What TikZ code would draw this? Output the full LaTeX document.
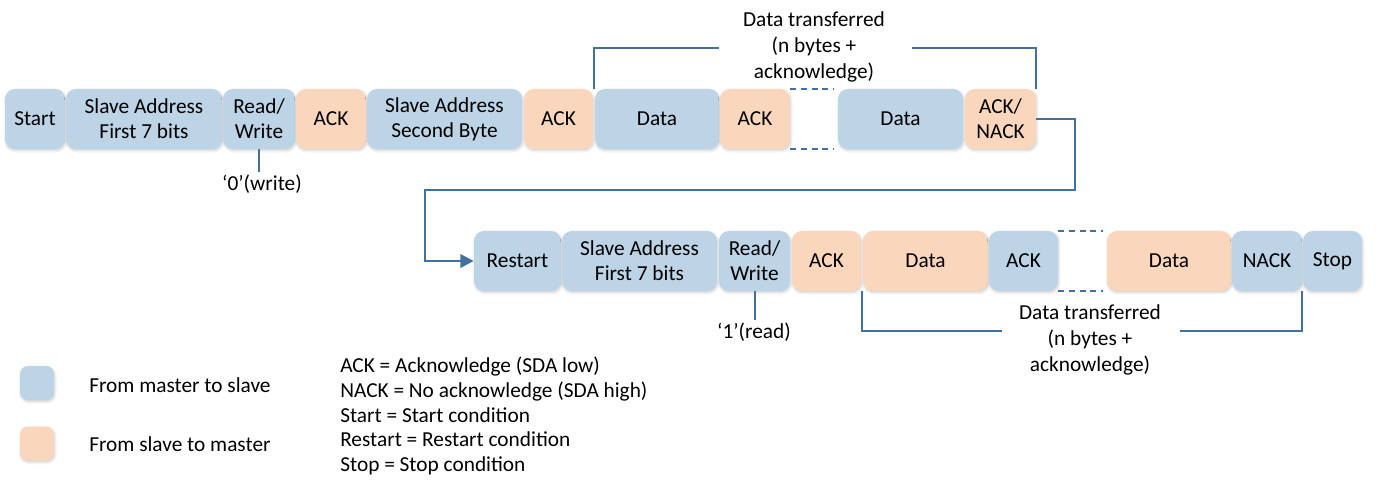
\documentclass[tikz,border=0pt]{standalone}
\usepackage{fontspec}
\setmainfont{Carlito}
\usetikzlibrary{arrows.meta,shadows.blur}
\definecolor{mblue}{HTML}{BDD3E6}
\definecolor{sorange}{HTML}{FAD6BC}
\definecolor{lineblue}{HTML}{41719C}
\begin{document}
\begin{tikzpicture}[x=0.75pt,y=-0.75pt,
  font=\fontsize{16}{19}\selectfont,
  box/.style={rounded corners=7.5pt, minimum height=45pt, inner sep=0pt, align=center,
    blur shadow={shadow xshift=0.6pt, shadow yshift=-1.2pt, shadow blur radius=2pt, shadow opacity=20}},
  mbox/.style={box, fill=mblue},
  sbox/.style={box, fill=sorange},
  seg/.style={draw=lineblue, line width=1.5pt},
  dashseg/.style={draw=lineblue, line width=1.5pt, dash pattern=on 4.5pt off 3.5pt},
  flow/.style={draw=lineblue, line width=1.8pt, -{Triangle[length=10pt,width=10pt]}},
  lbl/.style={inner sep=1.5pt, align=center},
  note/.style={inner sep=0pt, align=center, font=\fontsize{16}{19.5}\selectfont}
]
\useasboundingbox (0,0) rectangle (1376,502);

% top row
\node[mbox, minimum width=45pt]    (start) at (35,119)    {Start};
\node[mbox, minimum width=117pt]   (sa1)   at (144,119)   {Slave Address\\First 7 bits};
\node[mbox, minimum width=54pt]    (rw1)   at (259,119)   {Read/\\Write};
\node[sbox, minimum width=52.5pt]  (ack1)  at (331,119)   {ACK};
\node[mbox, minimum width=116.25pt](sa2)   at (444.5,119) {Slave Address\\Second Byte};
\node[sbox, minimum width=51.75pt] (ack2)  at (558.5,119) {ACK};
\node[mbox, minimum width=93pt]    (d1)    at (657,119)   {Data};
\node[sbox, minimum width=52.5pt]  (ack3)  at (755,119)   {ACK};
\node[mbox, minimum width=93.75pt] (d2)    at (900.5,119) {Data};
\node[sbox, minimum width=53.25pt] (an)    at (1000.5,119){ACK/\\NACK};

\draw[dashseg] (ack3.north east) -- ([xshift=-3.5pt]d2.north west);
\draw[dashseg] (ack3.south east) -- ([xshift=-3.5pt]d2.south west);

% bottom row
\node[mbox, minimum width=65.25pt] (rs)    at (517.5,261) {Restart};
\node[mbox, minimum width=116.25pt](sb1)   at (639.5,261) {Slave Address\\First 7 bits};
\node[mbox, minimum width=53.25pt] (rw2)   at (754.5,261) {Read/\\Write};
\node[sbox, minimum width=51.75pt] (ackb1) at (826.5,261) {ACK};
\node[sbox, minimum width=93.75pt] (db1)   at (925.5,261) {Data};
\node[mbox, minimum width=51.75pt] (ackb2) at (1023.5,261){ACK};
\node[sbox, minimum width=93pt]    (db2)   at (1169,261)  {Data};
\node[mbox, minimum width=52.5pt]  (nack)  at (1267,261)  {NACK};
\node[mbox, minimum width=44.25pt] (stop)  at (1332.5,261){Stop};

\draw[dashseg] (ackb2.north east) -- ([xshift=-3pt]db2.north west);
\draw[dashseg] (ackb2.south east) -- ([xshift=-3pt]db2.south west);

% flow from first row to restart
\coordinate (c1) at (1075,190);
\coordinate (c2) at (425,190);
\draw[flow] (an.east) -- (an.east -| c1) -- (c1) -- (c2) -- (c2 |- rs.west) -- (rs.west);

% read/write tick labels
\node[lbl] (w0) at (262,184) {‘0’(write)};
\draw[seg] (rw1.south) -- (rw1.south |- w0.north);
\node[lbl] (r1) at (754,332) {‘1’(read)};
\draw[seg] (rw2.south) -- (rw2.south |- r1.north);

% data transferred brackets
\node[note] (dt1) at (814,47) {Data transferred\\(n bytes +\\acknowledge)};
\coordinate (tl) at (719,48);
\coordinate (tr) at (912,48);
\draw[seg] ([xshift=-0.75pt]d1.north west) |- (tl);
\draw[seg] (tr) -| (an.north east);

\node[note] (dt2) at (1090,340) {Data transferred\\(n bytes +\\acknowledge)};
\coordinate (bl) at (1002,331);
\coordinate (br) at (1180,331);
\draw[seg] ([xshift=-0.75pt]db1.south west) |- (bl);
\draw[seg] (br) -| (nack.south east);

% legend
\node[mbox, minimum width=25.5pt, minimum height=25.5pt, rounded corners=6pt] (lgb) at (37,383) {};
\node[sbox, minimum width=25.5pt, minimum height=25.5pt, rounded corners=6pt] (lgo) at (37,443.5) {};
\node[anchor=west, inner sep=0pt] (lgbt) at (89,385) {From master to slave};
\node[anchor=west, inner sep=0pt] (lgot) at (89,444) {From slave to master};
\node[anchor=west, inner sep=0pt, align=left, font=\fontsize{16}{18.5}\selectfont] (abbr) at (340,416)
  {ACK = Acknowledge (SDA low)\\NACK = No acknowledge (SDA high)\\Start = Start condition\\Restart = Restart condition\\Stop = Stop condition};
\end{tikzpicture}
\end{document}
